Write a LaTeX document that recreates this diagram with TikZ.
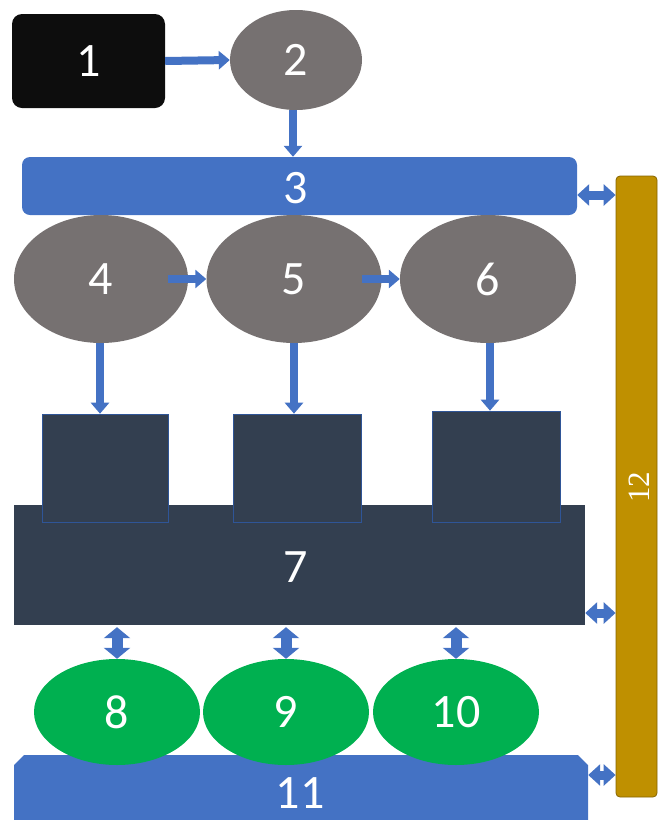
\documentclass[tikz,border=0pt]{standalone}
\usepackage{fontspec}
\setmainfont{Carlito}
\newfontfamily\seriffont{Liberation Serif}
\usetikzlibrary{shapes.geometric,arrows.meta}
\definecolor{cblue}{HTML}{4472C4}
\definecolor{cgray}{HTML}{767171}
\definecolor{cblack}{HTML}{0D0D0D}
\definecolor{cslate}{HTML}{333F50}
\definecolor{cgreen}{HTML}{00B050}
\definecolor{cgold}{HTML}{BF9000}
\definecolor{cedge}{HTML}{2F5597}
\begin{document}
\begin{tikzpicture}[x=1pt,y=-1pt,
  lbl/.style={text=white,font=\fontsize{48}{48}\selectfont,inner sep=0pt},
  blackbox/.style={lbl,rectangle,rounded corners=10pt,fill=cblack},
  grayell/.style={lbl,ellipse,fill=cgray},
  greenell/.style={lbl,ellipse,fill=cgreen},
  bluebar/.style={lbl,rectangle,rounded corners=8pt,fill=cblue},
  slatebox/.style={lbl,rectangle,fill=cslate},
  smallbox/.style={rectangle,fill=cslate,draw=cedge,line width=0.6pt,inner sep=0pt},
  goldbar/.style={rectangle,rounded corners=4pt,fill=cgold,draw=cgold!70!black,line width=0.8pt,inner sep=0pt},
  arr/.style={draw=cblue,line width=8pt,-{Triangle[width=18pt,length=11pt]}},
  darr/.style={draw=cblue,line width=9pt,{Triangle[width=21pt,length=12pt]}-{Triangle[width=21pt,length=12pt]}},
  vdarr/.style={draw=cblue,line width=11pt,{Triangle[width=26pt,length=11pt]}-{Triangle[width=26pt,length=11pt]}},
]
\useasboundingbox (0,0) rectangle (659,820);
% nodes
\node[blackbox,minimum width=153pt,minimum height=94pt] (n1) at (88.5,61) {1};
\node[grayell,minimum width=132pt,minimum height=100pt] (n2) at (296,60) {2};
\node[bluebar,minimum width=555pt,minimum height=58pt] (n3) at (299.5,186) {};
\node[lbl] at (296,188) {3};
\node[grayell,minimum width=174pt,minimum height=128pt] (n4) at (101,279) {4};
\node[grayell,minimum width=175pt,minimum height=128pt] (n5) at (294,279) {5};
\node[grayell,minimum width=176pt,minimum height=128pt] (n6) at (488,279) {6};
\node[slatebox,minimum width=571pt,minimum height=120pt] (n7) at (299.5,565) {};
\node[lbl] at (296,567) {7};
\node[smallbox,minimum width=126pt,minimum height=108pt] (s4) at (105,468) {};
\node[smallbox,minimum width=128pt,minimum height=108pt] (s5) at (297,468) {};
\node[smallbox,minimum width=128pt,minimum height=111pt] (s6) at (496,466.5) {};
% bar 11 (chamfered top corners)
\fill[cblue] (14,830) -- (14,765) -- (24,755) -- (578,755) -- (588,765) -- (588,830) -- cycle;
\node[rectangle,minimum width=574pt,minimum height=75pt,inner sep=0pt] (n11) at (301,792.5) {};
\node[lbl] at (300,793) {11};
\node[greenell,minimum width=166pt,minimum height=106pt] (n8) at (117,712) {8};
\node[greenell,minimum width=166pt,minimum height=106pt] (n9) at (286,712) {9};
\node[greenell,minimum width=166pt,minimum height=106pt] (n10) at (456,712) {10};
\node[goldbar,minimum width=41pt,minimum height=621pt] (n12) at (636.5,486.5) {};
\node[text=white,font=\seriffont\fontsize{31}{31}\selectfont,rotate=90,inner sep=0pt] at (639,487) {12};
% connectors
\draw[arr] (n1.east) -- (n2.west);
\draw[arr] (n2.south -| 293,0) -- (n3.north -| 293,0);
\draw[arr] ([xshift=-20pt]n4.east) -- (n5.west);
\draw[arr] ([xshift=-20pt]n5.east) -- (n6.west);
\draw[arr] (n4.south -| 100,0) -- (s4.north -| 100,0);
\draw[arr] (n5.south) -- (n5.south |- s5.north);
\draw[arr] (n6.south -| 490,0) -- (s6.north -| 490,0);
\draw[vdarr] ([yshift=-2pt]n7.south -| n8.north) -- (n8.north);
\draw[vdarr] ([yshift=-2pt]n7.south -| n9.north) -- (n9.north);
\draw[vdarr] ([yshift=-2pt]n7.south -| n10.north) -- (n10.north);
\draw[darr] ([yshift=-9pt]n3.east) -- ([yshift=-9pt]n3.east -| n12.west);
\draw[darr] ([yshift=-48pt]n7.east) -- ([yshift=-48pt]n7.east -| n12.west);
\draw[darr] (n11.east |- 0,775) -- (n12.west |- 0,775);
\end{tikzpicture}
\end{document}
